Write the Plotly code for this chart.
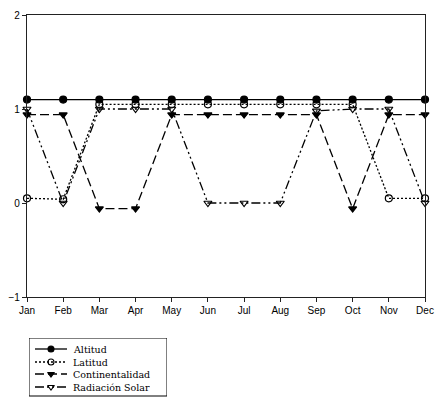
import plotly.graph_objects as go

months = ["Jan", "Feb", "Mar", "Apr", "May", "Jun", "Jul", "Aug", "Sep", "Oct", "Nov", "Dec"]

altitud = [1.1, 1.1, 1.1, 1.1, 1.1, 1.1, 1.1, 1.1, 1.1, 1.1, 1.1, 1.1]
latitud = [0.05, 0.04, 1.05, 1.05, 1.05, 1.05, 1.05, 1.05, 1.05, 1.05, 0.05, 0.05]
continentalidad = [0.94, 0.94, -0.06, -0.06, 0.94, 0.94, 0.94, 0.94, 0.94, -0.06, 0.94, 0.94]
radiacion = [1.0, 0.0, 1.0, 1.0, 1.0, 0.0, 0.0, 0.0, 0.98, 1.0, 1.0, 0.0]

series = [
    ("Altitud", altitud, "solid", "circle"),
    ("Latitud", latitud, "2px,2px", "circle-open"),
    ("Continentalidad", continentalidad, "9px,4px", "triangle-down"),
    ("Radiación Solar", radiacion, "9px,3px,2px,3px,2px,3px", "triangle-down-open"),
]

W, H = 435, 404
ML, MR, MT = 27, 10, 15
PW, PH = W - ML - MR, H - MT          # paper size in px (no bottom margin)
PLOT_BOTTOM = 297                     # px where the value axis ends

fig = go.Figure()

# main chart
for name, vals, dash, sym in series:
    fig.add_trace(go.Scatter(
        x=months, y=vals, name=name, mode="lines+markers",
        line=dict(color="black", width=1.3, dash=dash),
        marker=dict(symbol=sym, size=7, color="black",
                    line=dict(color="black", width=1.2)),
        cliponaxis=False, showlegend=False,
        xaxis="x", yaxis="y",
    ))

# legend key drawn on a small hidden axis pair (units: px inside the box)
LEG_LEFT, LEG_RIGHT, LEG_TOP = 29, 167, 338
leg_w = LEG_RIGHT - LEG_LEFT
leg_h = H - LEG_TOP
row_y = [11, 24, 36, 49]
for (name, vals, dash, sym), ry in zip(series, row_y):
    fig.add_trace(go.Scatter(
        x=[6, 38], y=[ry, ry], mode="lines",
        line=dict(color="black", width=1.3, dash=dash),
        showlegend=False, hoverinfo="skip", xaxis="x2", yaxis="y2",
    ))
    fig.add_trace(go.Scatter(
        x=[22], y=[ry], mode="markers",
        marker=dict(symbol=sym, size=6, color="black",
                    line=dict(color="black", width=1.1)),
        showlegend=False, hoverinfo="skip", xaxis="x2", yaxis="y2",
    ))
    fig.add_annotation(
        x=42, y=ry, xref="x2", yref="y2", text=name, showarrow=False,
        xanchor="left", yanchor="middle", height=12,
        font=dict(family="DejaVu Serif, Liberation Serif, serif", size=9.5, color="black"),
    )

fig.add_shape(type="rect", xref="x2", yref="y2", x0=0, x1=leg_w, y0=0, y1=58,
              line=dict(color="black", width=1), fillcolor="rgba(0,0,0,0)")

axis_font = dict(family="Liberation Sans, Arial, sans-serif", size=10, color="black")

fig.update_layout(
    width=W, height=H,
    margin=dict(l=ML, r=MR, t=MT, b=0, autoexpand=False),
    plot_bgcolor="white", paper_bgcolor="white",
    showlegend=False,
    xaxis=dict(
        type="category", range=[0, 11], showgrid=False, domain=[0, 1],
        showline=True, linecolor="#222", linewidth=1.2, mirror=True,
        ticks="outside", ticklen=4, tickcolor="#222",
        tickfont=axis_font, anchor="y",
    ),
    yaxis=dict(
        range=[-1, 2], tickvals=[-1, 0, 1, 2], showgrid=False, zeroline=False,
        domain=[(H - PLOT_BOTTOM) / PH, 1],
        showline=True, linecolor="#222", linewidth=1.2, mirror=True,
        ticks="outside", ticklen=4, tickcolor="#222",
        tickfont=axis_font, anchor="x",
    ),
    xaxis2=dict(
        domain=[(LEG_LEFT - ML) / PW, (LEG_RIGHT - ML) / PW], range=[0, leg_w],
        visible=False, anchor="y2", fixedrange=True,
    ),
    yaxis2=dict(
        domain=[0, leg_h / PH], range=[leg_h, 0],
        visible=False, anchor="x2", fixedrange=True,
    ),
)

fig.write_html("out.html")
